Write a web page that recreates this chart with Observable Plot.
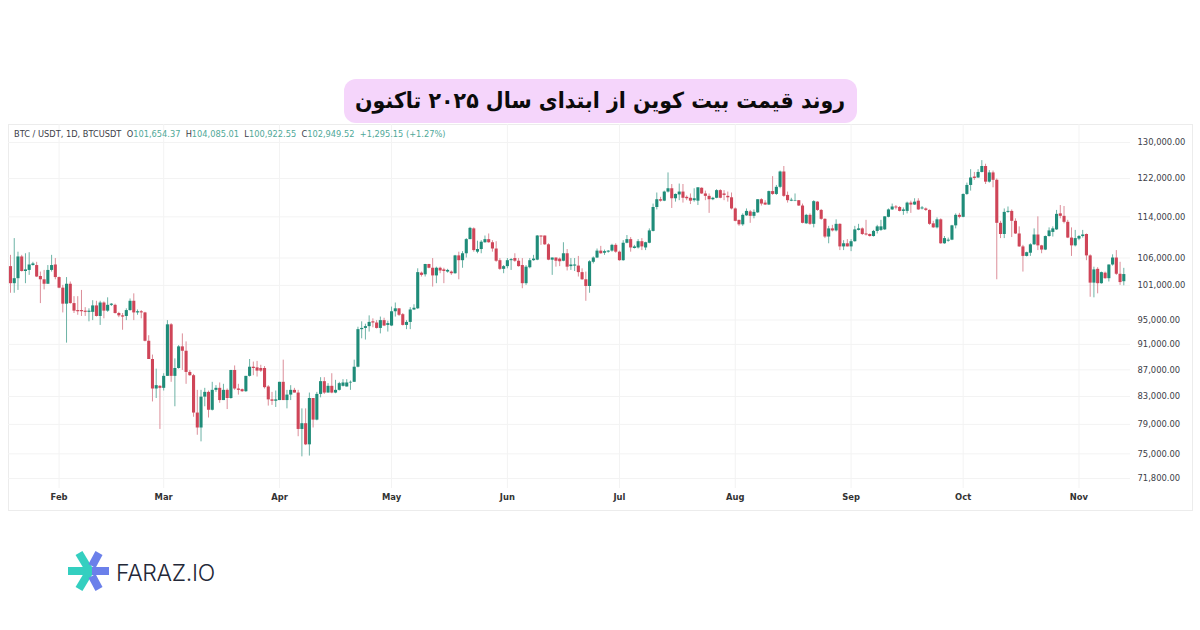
<!DOCTYPE html>
<html lang="fa">
<head>
<meta charset="utf-8">
<script src="https://cdn.jsdelivr.net/npm/d3@7"></script>
<script src="https://cdn.jsdelivr.net/npm/@observablehq/plot@0.6"></script>
<style>
html,body{margin:0;padding:0;background:#fff;width:1200px;height:630px;overflow:hidden}
#box{position:absolute;left:8px;top:124px;width:1183px;height:385px;border:1px solid #ececec;box-sizing:content-box}
#chart{position:absolute;left:0;top:0}
#title{position:absolute;left:344px;top:79px;width:513px;height:44px;border-radius:12px;background:#f5d5fb;color:#0b0b0b;
 font:bold 22px "DejaVu Sans",sans-serif;text-align:center;line-height:43px;direction:rtl;white-space:nowrap}
#title span{display:inline-block;transform:translateX(5px) scaleX(.935);transform-origin:center}
#legend{position:absolute;left:14px;top:129px;font:8.25px/10px "DejaVu Sans",sans-serif;color:#3c4048;white-space:pre}
#legend b{font-weight:normal;color:#4fa898}
#logoText{position:absolute;left:116px;top:558px;font:300 23px/30px Inter,sans-serif;color:#232838;letter-spacing:-.3px}
#logo{position:absolute;left:60px;top:545px}
</style>
</head>
<body>
<div id="box"></div>
<div id="chart"></div>
<div id="title"><span>روند قیمت بیت کوین از ابتدای سال ۲۰۲۵ تاکنون</span></div>
<div id="legend">BTC / USDT, 1D, BTCUSDT  O<b>101,654.37</b>  H<b>104,085.01</b>  L<b>100,922.55</b>  C<b>102,949.52</b>  <b>+1,295.15 (+1.27%)</b></div>
<svg id="logo" width="56" height="52" viewBox="60 545 56 52">
 <g stroke="#34cfc0" stroke-width="8" fill="none"><path d="M68 571H92"/><path d="M79 553L91 573"/><path d="M79 589L91 569"/></g>
 <g stroke="#6b80ea" stroke-width="8" fill="none"><path d="M92 571H109"/><path d="M99 553L92 566"/><path d="M99 589L92 576"/></g>
</svg>
<div id="logoText">FARAZ.IO</div>
<script>
// Daily BTC/USDT candles from 2025-01-19, prices in thousands of USD
const firstDay = new Date(Date.UTC(2025, 0, 19));
const opens = [
104.4,101.3,102.2,106.2,103.5,103.7,104.6,104.6,102.6,102.0,
101.2,103.7,104.7,102.4,100.5,97.7,101.2,97.8,96.6,96.6,
96.5,96.3,96.3,97.4,95.6,97.9,96.5,97.5,97.5,96.1,
95.7,95.6,96.6,98.2,96.2,96.4,96.2,91.5,88.6,84.1,
84.5,84.2,86.0,94.2,86.0,87.2,90.6,89.9,86.6,86.1,
80.6,78.5,82.9,83.6,81.0,83.9,84.2,82.4,83.9,82.7,
86.9,84.1,84.0,83.7,86.0,87.4,87.3,87.2,87.2,84.4,
82.5,82.3,82.4,85.1,82.4,83.2,83.9,83.5,78.3,79.1,
76.2,82.7,79.6,83.3,85.2,83.5,84.5,83.5,83.9,84.5,
84.4,85.0,85.1,87.4,93.4,93.6,93.9,94.7,94.5,93.6,
94.9,94.1,94.0,96.4,96.9,95.9,94.1,94.6,96.7,96.9,
103.2,102.9,104.8,104.1,102.7,104.1,103.8,103.4,103.4,103.1,
106.4,105.5,106.8,109.5,111.6,107.1,107.6,108.9,109.5,108.9,
107.7,105.5,103.9,104.4,105.5,105.9,105.4,104.6,101.3,104.2,
105.5,105.6,110.2,110.2,108.5,105.6,106.0,105.8,105.4,106.8,
104.4,104.5,104.5,103.3,102.0,100.8,105.2,106.0,107.3,106.9,
107.1,107.3,108.4,107.1,105.5,108.8,109.5,107.8,107.9,109.1,
107.9,108.8,111.1,115.9,117.5,117.2,119.1,119.8,117.7,118.5,
119.1,118.0,117.8,117.3,117.2,119.9,118.7,118.2,117.5,117.8,
119.4,118.7,118.2,117.9,115.6,113.3,112.4,114.2,115.0,114.1,
114.8,117.5,116.8,116.4,119.2,118.6,120.1,123.4,118.4,117.2,
117.2,117.3,116.2,112.6,114.3,112.5,117.0,115.3,113.5,110.0,
111.6,111.2,112.5,108.1,108.7,108.1,109.1,111.3,111.6,110.6,
110.5,110.1,111.1,111.3,111.4,113.9,115.4,116.0,115.9,115.1,
115.1,116.8,116.4,117.2,115.6,115.6,115.3,112.6,111.8,113.4,
108.7,109.2,109.4,112.2,114.3,113.9,118.6,120.5,122.3,122.1,
123.3,124.6,121.2,123.2,121.6,112.7,110.5,114.9,115.1,113.1,
110.6,108.1,106.3,106.9,108.5,110.4,108.3,107.5,110.1,110.9,
111.4,114.6,114.1,112.9,109.8,108.3,109.6,110.1,110.5,106.4,
101.4,103.9,101.3,103.2,102.2,104.7,106.0,103.0,101.654];
const closes = [
101.3,102.2,106.2,103.5,103.8,104.7,104.9,102.5,102.0,101.2,
103.7,104.6,102.4,100.5,97.7,101.2,97.8,96.5,96.4,96.4,
96.3,96.5,97.4,95.6,97.9,96.5,97.5,97.7,96.1,95.7,
95.5,96.6,98.2,96.2,96.4,96.2,91.5,88.6,84.1,84.6,
84.2,86.0,94.2,86.0,87.2,90.6,89.9,86.6,86.1,80.6,
78.5,82.9,83.6,81.0,83.9,84.2,82.4,83.9,82.7,86.9,
84.1,83.9,83.7,86.0,87.4,87.2,86.8,86.8,84.3,82.5,
82.3,82.5,85.1,82.4,83.2,83.9,83.5,78.3,79.1,76.2,
82.7,79.6,83.3,85.2,83.5,84.5,83.5,83.9,84.9,85.0,
85.0,85.1,87.4,93.4,93.6,93.9,94.6,94.5,93.6,94.9,
94.0,94.4,96.4,96.9,95.8,94.1,94.6,96.7,97.0,103.3,
102.8,104.8,104.1,102.7,104.1,103.6,103.5,103.7,103.1,106.4,
105.5,106.8,109.5,111.7,107.4,107.6,109.0,109.5,108.9,107.7,
105.4,103.9,104.4,105.5,105.7,105.4,104.4,101.3,104.3,105.5,
105.8,110.2,110.0,108.5,105.6,106.0,105.4,105.3,106.8,104.3,
104.7,104.7,103.3,102.0,100.8,105.3,106.0,107.3,106.8,107.2,
107.3,108.4,107.1,105.5,108.8,109.5,107.9,108.1,109.1,108.1,
108.9,111.2,115.9,117.5,117.2,119.1,119.8,117.7,118.6,119.1,
117.8,117.7,117.2,117.7,120.0,118.7,118.2,117.5,117.8,119.4,
117.8,118.4,117.9,115.6,113.1,112.4,114.3,115.1,114.1,114.9,
117.5,116.6,116.4,119.2,118.6,120.1,123.4,118.2,117.3,117.4,
117.3,116.2,112.7,114.3,112.5,117.1,115.3,113.5,110.0,111.6,
111.2,112.5,108.1,108.7,108.1,109.1,111.4,111.6,110.5,110.4,
110.1,111.1,112.0,112.0,114.0,115.4,116.0,115.8,115.1,115.4,
116.8,116.4,117.0,115.4,115.8,115.3,112.5,111.8,113.4,108.7,
109.7,109.4,112.2,114.3,113.9,118.6,120.5,122.1,122.0,123.3,
124.6,121.2,123.2,121.6,112.7,110.5,114.9,115.1,113.1,110.6,
108.1,106.3,107.0,108.5,110.4,108.3,107.5,110.1,111.2,111.6,
114.5,114.1,112.9,109.8,108.3,109.7,110.1,110.4,106.4,101.4,
103.8,101.3,103.3,102.2,104.7,106.0,103.0,101.5,102.949];
const highs = [
106.5,109.7,107.1,106.5,106.8,107.0,105.2,105.2,103.4,103.7,
104.6,106.5,105.9,102.5,101.0,102.4,101.6,99.0,99.0,100.1,
97.1,96.9,98.3,98.2,98.2,98.1,98.8,97.8,97.7,96.3,
96.1,96.9,98.6,99.5,96.7,96.6,96.3,92.4,89.3,87.1,
84.6,86.4,94.9,94.4,88.7,90.8,92.7,91.4,86.9,86.3,
83.9,83.9,84.2,83.8,85.1,84.6,85.0,84.8,84.1,86.9,
87.6,84.8,84.1,86.0,88.6,88.2,88.3,87.7,87.5,84.6,
83.6,83.8,85.1,88.5,83.9,84.6,84.2,83.9,81.2,81.2,
83.5,82.7,83.6,85.8,85.8,84.9,86.4,85.4,85.1,85.5,
85.5,85.3,88.5,93.8,94.7,94.3,95.7,95.2,94.9,95.5,
95.3,94.8,97.2,97.9,96.9,96.1,94.9,97.1,97.6,104.0,
103.4,104.8,104.8,105.9,104.3,104.3,104.1,103.9,103.6,106.5,
107.1,107.2,109.7,111.9,111.8,109.2,109.3,110.2,110.6,109.3,
109.1,105.9,104.6,105.9,105.9,106.8,105.9,105.9,104.6,105.9,
106.5,110.3,110.2,110.2,108.7,106.0,106.0,106.0,108.9,107.6,
105.9,105.9,106.3,104.0,103.4,105.5,106.2,107.7,108.2,107.5,
107.4,108.6,108.7,107.3,109.3,110.3,109.9,108.4,109.5,109.7,
109.0,111.6,116.6,118.9,118.0,119.3,123.2,120.7,118.7,120.8,
120.7,118.3,118.7,119.8,120.0,120.0,119.3,118.7,118.0,119.6,
119.6,119.4,119.1,118.9,115.8,113.3,114.6,115.6,115.3,115.4,
117.5,117.7,117.3,119.3,122.4,120.5,123.6,124.6,119.1,117.8,
118.7,117.3,116.6,114.5,114.6,117.3,117.1,115.5,113.6,112.1,
112.3,113.4,112.6,109.3,109.5,109.5,112.1,112.5,111.8,113.3,
110.6,111.3,112.3,113.3,114.0,115.6,116.6,116.3,116.1,115.8,
117.0,117.2,117.7,117.7,116.1,115.8,115.4,113.1,113.8,113.6,
110.1,109.8,112.3,114.6,114.7,118.7,121.0,123.9,123.3,123.9,
125.9,125.1,123.7,123.6,121.9,113.1,115.6,116.0,115.4,113.6,
112.0,108.4,107.1,108.7,111.6,114.0,108.4,110.2,111.8,112.0,
115.3,116.3,116.1,113.3,111.8,111.3,110.3,111.3,110.6,106.6,
104.3,104.2,103.4,103.4,104.7,106.6,107.4,105.2,104.085];
const lows = [
99.6,99.6,100.1,103.4,101.3,102.8,104.5,102.4,97.8,100.2,
101.2,103.4,102.0,100.4,96.2,91.2,97.7,96.1,95.8,95.6,
95.6,94.7,94.9,95.5,94.1,95.2,96.3,97.3,96.0,95.4,
93.3,94.9,96.5,94.9,95.8,95.2,91.4,88.6,82.2,82.7,
78.3,83.8,86.0,85.1,81.5,87.1,86.9,84.8,86.0,80.0,
77.5,76.6,81.5,79.9,80.9,83.6,82.0,82.4,81.1,82.6,
83.9,83.2,83.6,83.6,85.9,86.1,85.9,86.6,84.1,81.6,
81.7,81.4,82.4,82.4,81.2,82.4,83.5,77.3,74.6,76.1,
74.7,78.5,79.5,82.8,83.3,83.5,83.4,83.4,83.8,84.4,
84.4,83.9,85.1,87.3,91.9,91.7,93.0,93.7,93.5,92.7,
93.9,93.0,93.9,95.5,95.6,94.0,93.4,93.4,96.6,96.8,
102.5,102.5,104.0,100.7,101.3,103.1,101.3,103.2,102.8,103.0,
102.0,104.1,106.0,109.5,107.1,106.8,106.8,108.8,108.8,107.1,
105.2,103.7,103.1,104.0,103.7,105.2,104.3,100.4,101.0,104.0,
105.4,105.5,108.4,108.4,105.5,102.8,104.3,104.4,105.3,103.6,
103.7,103.5,102.5,101.9,98.2,99.6,104.9,105.9,106.7,106.5,
106.9,107.1,106.9,105.4,105.4,108.7,107.1,107.7,107.7,107.4,
107.4,108.7,111.0,115.4,117.0,117.1,118.9,115.7,117.0,117.3,
116.8,117.3,116.5,117.0,116.3,118.6,117.3,114.7,117.3,117.7,
117.7,117.3,117.0,115.4,113.0,112.1,112.1,114.1,112.7,113.6,
114.7,116.2,116.3,116.3,118.4,118.4,119.8,118.0,116.8,117.1,
117.1,116.1,112.6,112.5,112.3,111.8,115.1,113.3,109.7,108.7,
111.0,111.0,107.4,107.4,108.1,107.2,109.0,111.2,110.3,110.2,
110.0,110.0,110.6,111.1,111.3,113.8,115.3,115.4,115.0,114.3,
114.6,114.7,116.3,115.3,115.4,115.1,112.3,111.7,111.6,108.6,
108.6,109.0,109.3,111.6,113.6,113.8,118.4,119.3,121.6,122.0,
123.2,120.7,121.0,120.0,102.0,109.7,109.7,114.7,109.9,110.5,
108.0,103.4,106.2,106.3,108.4,107.4,106.8,107.4,110.0,110.0,
111.3,113.6,112.6,109.7,106.3,108.1,109.3,109.8,105.5,98.9,
98.8,99.5,101.2,102.1,101.6,104.5,102.8,101.0,100.922];
const priceTicks = [130000,122000,114000,106000,101000,95000,91000,87000,83000,79000,75000,71800];
const monthTicks = [1,2,3,4,5,6,7,8,9,10].map(m => new Date(Date.UTC(2025, m, 1)));

const upColor = "#1f8c79", downColor = "#cf4558";
const upWick = "#6db3a6", downWick = "#dc8e99";
const candles = opens.map((o, i) => ({
  date: d3.utcDay.offset(firstDay, i),
  open: o * 1000, close: closes[i] * 1000, high: highs[i] * 1000, low: lows[i] * 1000,
  up: closes[i] >= o
}));
const font = '"DejaVu Sans",sans-serif';
const gridColor = "#f3f3f3";

const chart = Plot.plot({
  width: 1200, height: 630,
  marginTop: 124, marginRight: 70, marginBottom: 142, marginLeft: 8,
  style: {background: "transparent", fontFamily: font, overflow: "visible"},
  color: {type: "identity"},
  x: {type: "utc", domain: [candles[0].date, candles[candles.length - 1].date], range: [10, 1123.3], axis: null},
  y: {type: "log", domain: [71800, 130000], range: [478, 142], axis: null},
  marks: [
    Plot.gridY(priceTicks, {stroke: gridColor, strokeOpacity: 1}),
    Plot.gridX(monthTicks, {stroke: gridColor, strokeOpacity: 1}),
    Plot.text(priceTicks, {y: d => d, frameAnchor: "right", textAnchor: "start", dx: 7,
      text: d3.format(",.2f"), fontSize: 8.4, fill: "#3c4048"}),
    Plot.axisX(monthTicks, {anchor: "bottom", tickSize: 0, tickPadding: 6, label: null,
      tickFormat: d3.utcFormat("%b"), fontSize: 8.4, fontWeight: 600, fill: "#333"}),
    Plot.ruleX(candles, {x: "date", y1: "low", y2: "high", strokeWidth: 1,
      stroke: d => d.up ? upWick : downWick}),
    Plot.ruleX(candles, {x: "date", y1: "open", y2: "close", strokeWidth: 3.1,
      stroke: d => d.up ? upColor : downColor})
  ]
});
document.getElementById("chart").append(chart);
</script>
</body>
</html>
